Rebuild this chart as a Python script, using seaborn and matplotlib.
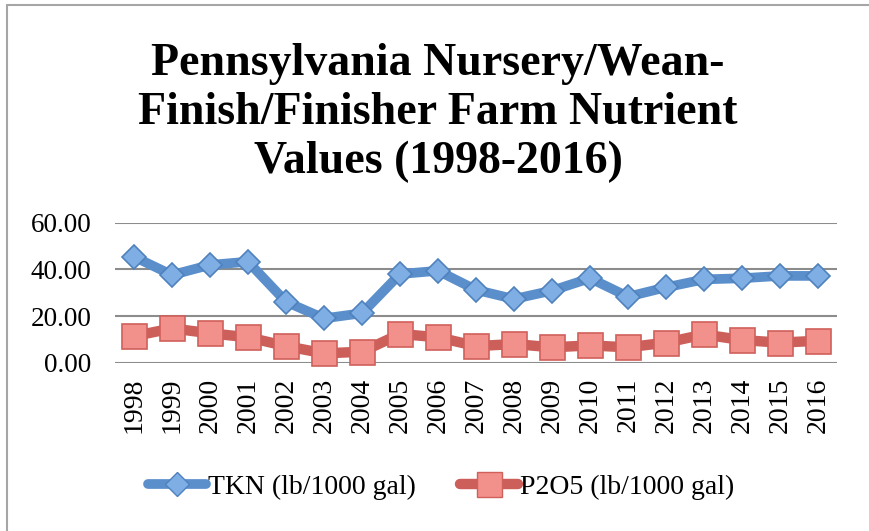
import pandas as pd
import numpy as np
import matplotlib.pyplot as plt
import seaborn as sns
from matplotlib.lines import Line2D

# Values
years = ['1998', '1999', '2000', '2001', '2002', '2003', '2004', '2005', '2006', '2007',
         '2008', '2009', '2010', '2011', '2012', '2013', '2014', '2015', '2016']
tkn = [45.4, 37.6, 41.9, 43.3, 26.1, 19.0, 21.2, 38.0, 39.4, 31.2,
       27.3, 30.9, 36.2, 28.3, 32.3, 35.7, 36.2, 37.2, 37.2]
p2o5 = [11.4, 14.7, 12.6, 10.9, 7.1, 4.0, 4.7, 12.3, 10.9, 7.1,
        8.0, 6.6, 7.4, 6.6, 8.6, 12.1, 9.7, 8.6, 9.4]
y_ticks = [0, 20, 40, 60]
series_names = ['TKN (lb/1000 gal)', 'P2O5 (lb/1000 gal)']
title = 'Pennsylvania Nursery/Wean-\nFinish/Finisher Farm Nutrient\nValues (1998-2016)'

blue_line, blue_face, blue_edge = '#5a8fcb', '#7eaee4', '#4f81bd'
red_line, red_face, red_edge = '#cd5f5a', '#f2908b', '#d0605a'

sns.set_theme(style='white')
plt.rcParams['font.family'] = ['Liberation Serif', 'DejaVu Serif']
plt.rcParams['text.color'] = 'black'

df = pd.DataFrame({'year': years, 'TKN': tkn, 'P2O5': p2o5})

fig = plt.figure(figsize=(8.69, 5.31), dpi=100)
ax = fig.add_axes([115 / 869, 1 - 362.7 / 531, 722 / 869, 140 / 531])

sns.lineplot(data=df, x='year', y='TKN', ax=ax, color=blue_line, linewidth=7,
             marker='D', markersize=12.5, markerfacecolor=blue_face,
             markeredgecolor=blue_edge, markeredgewidth=1.2, clip_on=False, zorder=4)
sns.lineplot(data=df, x='year', y='P2O5', ax=ax, color=red_line, linewidth=7.5,
             marker='s', markersize=18, markerfacecolor=red_face,
             markeredgecolor=red_edge, markeredgewidth=1.2, clip_on=False, zorder=3)

ax.set_xlim(-0.5, len(years) - 0.5)
ax.set_ylim(0, 60)
ax.set_yticks(y_ticks)
ax.set_yticklabels([f'{v:.2f}' for v in y_ticks], fontsize=19.5)
ax.set_xticks(range(len(years)))
ax.set_xticklabels(years, rotation=90, fontsize=20)
ax.tick_params(axis='both', length=0, pad=11, colors='black')
ax.tick_params(axis='y', pad=17)
ax.set_xlabel('')
ax.set_ylabel('')
for s in ax.spines.values():
    s.set_visible(False)
ax.yaxis.grid(True, color='#8c8c8c', linewidth=1.5)
ax.xaxis.grid(False)
ax.set_axisbelow(True)

fig.text(438 / 869, 1 - 113 / 531, title, ha='center', va='center', color='black',
         fontsize=33, fontweight='bold', linespacing=1.22)

handles = [
    Line2D([], [], color=blue_line, linewidth=7, solid_capstyle='round', marker='D',
           markersize=12.5, markerfacecolor=blue_face, markeredgecolor=blue_edge),
    Line2D([], [], color=red_line, linewidth=7.5, solid_capstyle='round', marker='s',
           markersize=18, markerfacecolor=red_face, markeredgecolor=red_edge),
]
fig.legend(handles, series_names, loc='center', bbox_to_anchor=(441 / 869, 1 - 487 / 531),
           ncol=2, frameon=False, fontsize=20, handlelength=2.1, handletextpad=0.05,
           columnspacing=1.6, numpoints=1, labelcolor='black')

# chart border (left and top edges visible)
fig.add_artist(Line2D([7 / 869, 7 / 869], [0, 1 - 5 / 531], color='#a6a6a6', linewidth=1.5))
fig.add_artist(Line2D([7 / 869, 1], [1 - 5 / 531, 1 - 5 / 531], color='#a6a6a6', linewidth=1.5))

fig.savefig('out.png', dpi=100)
